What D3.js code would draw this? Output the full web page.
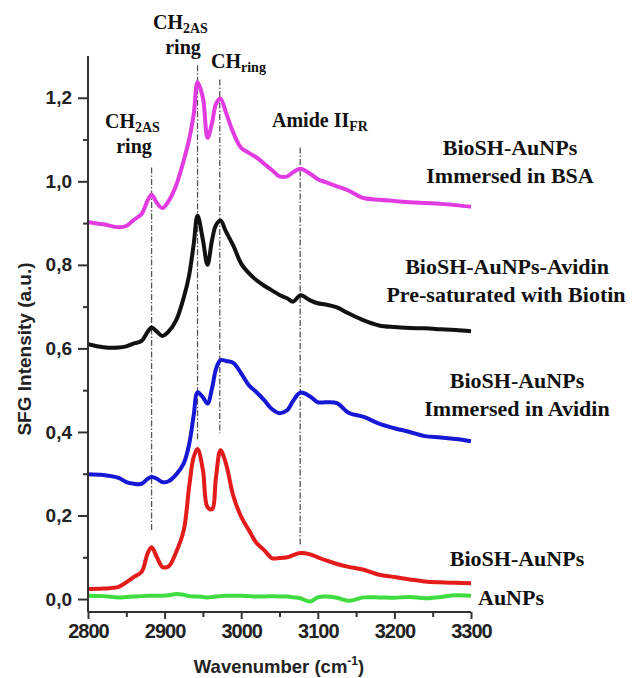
<!DOCTYPE html>
<html>
<head>
<meta charset="utf-8">
<script src="https://cdn.jsdelivr.net/npm/d3@7"></script>
<style>
  body { margin: 0; background: #fff; }
  .tick text { font-family: "Liberation Sans", Arial, sans-serif; font-weight: bold; font-size: 19px; fill: #222; }
  .lbl { font-family: "Liberation Serif", "Times New Roman", serif; font-weight: bold; fill: #111; }
</style>
</head>
<body>
<svg id="chart"></svg>
<script>
const wavenumber = [2800, 2820, 2840, 2850, 2860, 2870, 2878, 2883, 2890, 2897, 2905, 2915, 2925, 2932, 2938,
  2943, 2950, 2956, 2962, 2967, 2973, 2980, 2990, 3000, 3010, 3020, 3030, 3040, 3050, 3060, 3068, 3077,
  3090, 3100, 3110, 3125, 3140, 3160, 3180, 3200, 3220, 3240, 3260, 3280, 3300];

const bsa = [0.902, 0.897, 0.890, 0.893, 0.908, 0.922, 0.955, 0.968, 0.948, 0.936, 0.952, 0.990, 1.050, 1.100, 1.160,
  1.237, 1.200, 1.104, 1.140, 1.185, 1.198, 1.165, 1.115, 1.080, 1.068, 1.057, 1.042, 1.027, 1.012, 1.012, 1.022, 1.030,
  1.018, 1.005, 0.998, 0.988, 0.978, 0.960, 0.956, 0.953, 0.950, 0.948, 0.946, 0.943, 0.939];

const biotin = [0.610, 0.603, 0.602, 0.605, 0.612, 0.618, 0.640, 0.650, 0.640, 0.630, 0.640, 0.667, 0.722, 0.775, 0.850,
  0.918, 0.860, 0.800, 0.860, 0.895, 0.906, 0.880, 0.845, 0.803, 0.780, 0.763, 0.750, 0.739, 0.728, 0.720, 0.712, 0.727,
  0.715, 0.708, 0.705, 0.698, 0.684, 0.667, 0.655, 0.651, 0.649, 0.648, 0.646, 0.644, 0.641];

const avidin = [0.299, 0.297, 0.290, 0.280, 0.276, 0.276, 0.288, 0.292, 0.288, 0.280, 0.282, 0.298, 0.325, 0.370, 0.440,
  0.495, 0.483, 0.468, 0.505, 0.550, 0.572, 0.570, 0.565, 0.540, 0.512, 0.495, 0.476, 0.455, 0.445, 0.452, 0.475, 0.494,
  0.485, 0.471, 0.471, 0.469, 0.446, 0.436, 0.420, 0.409, 0.400, 0.390, 0.387, 0.383, 0.378];

const biosh = [0.024, 0.025, 0.029, 0.040, 0.053, 0.065, 0.110, 0.124, 0.100, 0.077, 0.078, 0.112, 0.165, 0.268, 0.340,
  0.359, 0.309, 0.220, 0.215, 0.290, 0.356, 0.325, 0.245, 0.197, 0.165, 0.134, 0.117, 0.098, 0.098, 0.100, 0.105, 0.110,
  0.107, 0.100, 0.093, 0.084, 0.077, 0.070, 0.058, 0.053, 0.047, 0.042, 0.040, 0.039, 0.038];

const aunps = [0.008, 0.007, 0.004, 0.005, 0.006, 0.007, 0.008, 0.008, 0.008, 0.008, 0.009, 0.012, 0.010, 0.007, 0.006,
  0.006, 0.005, 0.004, 0.005, 0.006, 0.007, 0.008, 0.008, 0.008, 0.007, 0.006, 0.006, 0.007, 0.006, 0.006, 0.004, 0.002,
  -0.006, 0.004, 0.006, 0.003, -0.004, 0.004, 0.004, 0.003, 0.005, 0.002, 0.005, 0.009, 0.008];

const xTicks = [2800, 2900, 3000, 3100, 3200, 3300];
const xMinor = [2850, 2950, 3050, 3150, 3250];
const yTicks = [0, 0.2, 0.4, 0.6, 0.8, 1.0, 1.2];
const yMinor = [0.1, 0.3, 0.5, 0.7, 0.9, 1.1];

// peak guide lines: position, top and bottom value
const guideX = [2883, 2943, 2972, 3077];
const guideTop = [1.033, 1.278, 1.244, 1.081];
const guideBottom = [0.165, 0.38, 0.397, 0.129];

const series = [
  { values: bsa, color: "#e23be2" },
  { values: biotin, color: "#111111" },
  { values: avidin, color: "#1717d6" },
  { values: biosh, color: "#e31b1b" },
  { values: aunps, color: "#3fdc3f" },
];

const svg = d3.select("#chart").attr("width", 636).attr("height", 678);

const x = d3.scaleLinear().domain([2800, 3300]).range([88, 471]);
const y = d3.scaleLinear().domain([-0.031, 1.3]).range([612, 56]);

const comma = (d) => d3.format(".1f")(d).replace(".", ",");

// guides
svg.append("g")
  .selectAll("line")
  .data(guideX)
  .enter()
  .append("line")
  .attr("x1", (d) => x(d))
  .attr("x2", (d) => x(d))
  .attr("y1", (d, i) => y(guideTop[i]))
  .attr("y2", (d, i) => y(guideBottom[i]))
  .attr("stroke", "#555")
  .attr("stroke-width", 1.3)
  .attr("stroke-dasharray", "6,2,1.5,2");

const line = d3.line()
  .x((d, i) => x(wavenumber[i]))
  .y((d) => y(d))
  .curve(d3.curveCatmullRom.alpha(0.5));

svg.append("g")
  .selectAll("path")
  .data(series)
  .enter()
  .append("path")
  .attr("d", (d) => line(d.values))
  .attr("fill", "none")
  .attr("stroke", (d) => d.color)
  .attr("stroke-width", 4)
  .attr("stroke-linejoin", "round");

// axes
const xAxis = svg.append("g")
  .attr("transform", "translate(0,612)")
  .call(d3.axisBottom(x).tickValues(xTicks).tickFormat(d3.format("d")).tickSize(7).tickPadding(5));
svg.append("g")
  .attr("transform", "translate(0,612)")
  .call(d3.axisBottom(x).tickValues(xMinor).tickFormat("").tickSize(5))
  .select(".domain").remove();

const yAxis = svg.append("g")
  .attr("transform", "translate(88,0)")
  .call(d3.axisLeft(y).tickValues(yTicks).tickFormat(comma).tickSize(10).tickPadding(6));
svg.append("g")
  .attr("transform", "translate(88,0)")
  .call(d3.axisLeft(y).tickValues(yMinor).tickFormat("").tickSize(5))
  .select(".domain").remove();

xAxis.select(".domain").attr("d", "M88,0H471");
yAxis.select(".domain").attr("d", "M0,56V612");
svg.selectAll(".domain, .tick line").attr("stroke", "#333").attr("stroke-width", 2);
xAxis.selectAll(".tick text").style("font-size", "20px").attr("letter-spacing", "-1px");

// axis titles
svg.append("text")
  .attr("transform", "translate(31,349) rotate(-90)")
  .attr("text-anchor", "middle")
  .style("font-family", "Liberation Sans, Arial, sans-serif")
  .style("font-weight", "bold")
  .style("font-size", "19px")
  .style("fill", "#222")
  .text("SFG Intensity (a.u.)");

const xt = svg.append("text")
  .attr("x", 279)
  .attr("y", 673)
  .attr("text-anchor", "middle")
  .style("font-family", "Liberation Sans, Arial, sans-serif")
  .style("font-weight", "bold")
  .style("font-size", "18.5px")
  .style("fill", "#222");
xt.append("tspan").text("Wavenumber (cm");
xt.append("tspan").attr("dy", -8).style("font-size", "12px").text("-1");
xt.append("tspan").attr("dy", 8).text(")");

// peak annotations
function sub(x0, y0, main, s, anchor) {
  const t = svg.append("text").attr("class", "lbl").attr("x", x0).attr("y", y0)
    .attr("text-anchor", anchor || "start").style("font-size", "20px");
  t.append("tspan").text(main);
  t.append("tspan").attr("dy", 4).style("font-size", "14px").text(s);
  return t;
}
function plain(x0, y0, txt, size, anchor) {
  svg.append("text").attr("class", "lbl").attr("x", x0).attr("y", y0)
    .attr("text-anchor", anchor || "middle").style("font-size", size + "px").text(txt);
}

sub(105, 128, "CH", "2AS");
plain(134, 153, "ring", 20);
sub(153, 29, "CH", "2AS");
plain(183, 54, "ring", 20);
sub(211, 68, "CH", "ring");
sub(272, 127, "Amide II", "FR");

// sample labels
plain(510, 155, "BioSH-AuNPs", 22);
plain(510, 183, "Immersed  in BSA", 22);
plain(507, 274, "BioSH-AuNPs-Avidin", 22);
plain(506, 302, "Pre-saturated with Biotin", 22);
plain(517, 388, "BioSH-AuNPs", 22);
plain(517, 416, "Immersed  in Avidin", 22);
plain(517, 566, "BioSH-AuNPs", 22);
plain(478, 605, "AuNPs", 22, "start");
</script>
</body>
</html>
